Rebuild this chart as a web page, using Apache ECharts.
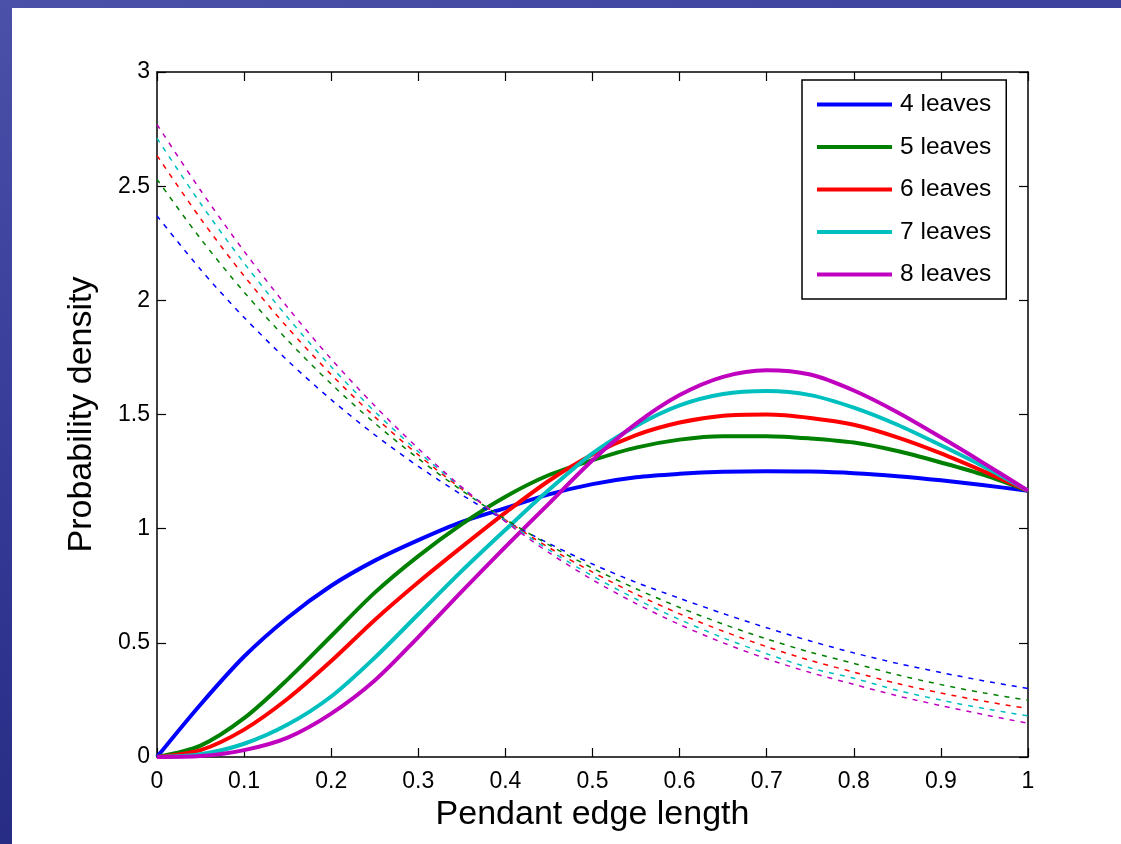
<!DOCTYPE html>
<html>
<head>
<meta charset="utf-8">
<title>Pendant edge length</title>
<script src="https://cdn.jsdelivr.net/npm/echarts@6/dist/echarts.min.js"></script>
<style>
  html, body { margin: 0; padding: 0; }
  body {
    width: 1121px; height: 844px; position: relative; overflow: hidden;
    background: linear-gradient(165deg, #4b50a8 0%, #363b98 40%, #1c2074 100%);
  }
  #panel { position: absolute; left: 12px; top: 8px; width: 1109px; height: 836px; background: #fff; }
  #main { position: absolute; left: 0; top: 0; width: 1121px; height: 844px; }
</style>
</head>
<body>
<div id="panel"></div>
<div id="main"></div>
<script>
// x positions shared by every curve
const xs = [0, 0.05, 0.1, 0.15, 0.2, 0.25, 0.3, 0.35, 0.4, 0.45, 0.5,
            0.55, 0.6, 0.65, 0.7, 0.75, 0.8, 0.85, 0.9, 0.95, 1];

const names = ['4 leaves', '5 leaves', '6 leaves', '7 leaves', '8 leaves'];
const colors = ['#0000ff', '#008000', '#ff0000', '#00bfbf', '#bf00bf'];

// solid curves
const solid4 = [0, 0.23, 0.44, 0.61, 0.75, 0.86, 0.95, 1.03, 1.09, 1.15, 1.195,
                1.225, 1.24, 1.249, 1.252, 1.25, 1.243, 1.23, 1.212, 1.19, 1.166];
const solid5 = [0, 0.05, 0.17, 0.34, 0.53, 0.72, 0.88, 1.02, 1.14, 1.235, 1.30,
                1.355, 1.39, 1.405, 1.405, 1.395, 1.377, 1.34, 1.29, 1.235, 1.166];
const solid6 = [0, 0.03, 0.12, 0.255, 0.42, 0.60, 0.765, 0.92, 1.07, 1.21, 1.325,
                1.41, 1.465, 1.495, 1.50, 1.485, 1.455, 1.40, 1.33, 1.25, 1.166];
const solid7 = [0, 0.012, 0.058, 0.142, 0.265, 0.435, 0.625, 0.815, 0.995, 1.17, 1.33,
                1.45, 1.54, 1.59, 1.603, 1.585, 1.53, 1.455, 1.365, 1.27, 1.166];
const solid8 = [0, 0.004, 0.03, 0.085, 0.19, 0.335, 0.525, 0.725, 0.92, 1.11, 1.30,
                1.46, 1.585, 1.665, 1.694, 1.675, 1.605, 1.51, 1.40, 1.285, 1.166];

// dotted curves
const dash4 = [2.37, 2.135, 1.925, 1.736, 1.565, 1.411, 1.273, 1.148, 1.035, 0.935, 0.845,
               0.765, 0.695, 0.628, 0.566, 0.508, 0.456, 0.41, 0.37, 0.333, 0.30];
const dash5 = [2.53, 2.27, 2.036, 1.825, 1.634, 1.462, 1.307, 1.167, 1.041, 0.929, 0.827,
               0.737, 0.655, 0.582, 0.517, 0.459, 0.41, 0.36, 0.317, 0.28, 0.249];
const dash6 = [2.634, 2.358, 2.107, 1.88, 1.675, 1.49, 1.323, 1.173, 1.038, 0.917, 0.81,
               0.713, 0.627, 0.551, 0.483, 0.423, 0.372, 0.322, 0.28, 0.244, 0.212];
const dash7 = [2.71, 2.424, 2.163, 1.925, 1.709, 1.513, 1.337, 1.178, 1.035, 0.907, 0.793,
               0.692, 0.602, 0.522, 0.452, 0.39, 0.345, 0.292, 0.249, 0.212, 0.18];
const dash8 = [2.77, 2.482, 2.215, 1.969, 1.743, 1.538, 1.351, 1.182, 1.031, 0.895, 0.776,
               0.672, 0.58, 0.5, 0.43, 0.37, 0.318, 0.268, 0.225, 0.185, 0.148];

const solids = [solid4, solid5, solid6, solid7, solid8];
const dashes = [dash4, dash5, dash6, dash7, dash8];

const pairs = ys => xs.map((x, i) => [x, ys[i]]);

const font = 'Liberation Sans, Arial, Helvetica, sans-serif';

const series = [];
solids.forEach((ys, i) => {
  series.push({
    name: names[i], type: 'line', data: pairs(ys), smooth: 0.3,
    showSymbol: false, color: colors[i],
    lineStyle: { width: 4, color: colors[i] }, z: 2
  });
});
dashes.forEach((ys, i) => {
  series.push({
    name: names[i] + ' (dotted)', type: 'line', data: pairs(ys), smooth: 0.3,
    showSymbol: false, color: colors[i],
    lineStyle: { width: 1.5, type: [5, 6], color: colors[i] }, z: 3
  });
});

const chart = echarts.init(document.getElementById('main'));
const frame = () => ({
  axisLine: { show: true, onZero: false, lineStyle: { color: '#000', width: 1.5 } },
  axisTick: { show: true, inside: true, length: 9, lineStyle: { color: '#000', width: 1.2 } },
  splitLine: { show: false }
});
const tickFmt = v => String(+v.toFixed(1));
chart.setOption({
  animation: false,
  textStyle: { fontFamily: font },
  grid: { left: 157, right: 93, top: 72, bottom: 87 },
  legend: {
    data: names, orient: 'vertical', left: 802, top: 80,
    itemWidth: 75, itemHeight: 4, icon: 'rect', itemGap: 17.5,
    padding: [12, 15, 12, 15],
    backgroundColor: '#fff', borderColor: '#000', borderWidth: 1.5,
    textStyle: { fontSize: 24.5, color: '#000', lineHeight: 24, padding: [0, 0, 0, 3], fontFamily: font }
  },
  xAxis: [
    Object.assign({
      type: 'value', min: 0, max: 1, interval: 0.1, position: 'bottom',
      name: 'Pendant edge length', nameLocation: 'middle', nameGap: 38,
      nameTextStyle: { fontSize: 34, color: '#000', fontFamily: font },
      axisLabel: { fontSize: 23, color: '#000', margin: 13, formatter: tickFmt }
    }, frame()),
    Object.assign({
      type: 'value', min: 0, max: 1, interval: 0.1, position: 'top',
      axisLabel: { show: false }
    }, frame())
  ],
  yAxis: [
    Object.assign({
      type: 'value', min: 0, max: 3, interval: 0.5, position: 'left',
      name: 'Probability density', nameLocation: 'middle', nameGap: 58,
      nameTextStyle: { fontSize: 34, color: '#000', fontFamily: font },
      axisLabel: { fontSize: 23, color: '#000', margin: 7, formatter: tickFmt }
    }, frame()),
    Object.assign({
      type: 'value', min: 0, max: 3, interval: 0.5, position: 'right',
      axisLabel: { show: false }
    }, frame())
  ],
  series: series
});
</script>
</body>
</html>
